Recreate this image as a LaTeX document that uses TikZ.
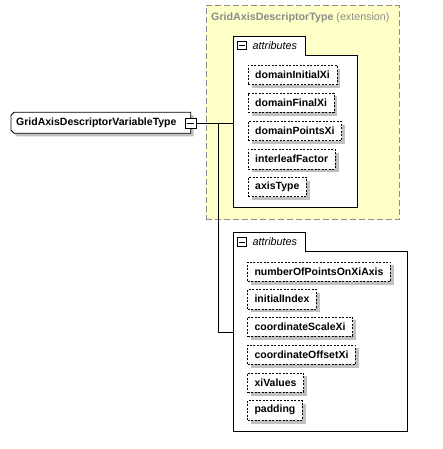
\documentclass[tikz,border=0pt]{standalone}
\usepackage{fontspec}
\setmainfont{Liberation Sans}
\usetikzlibrary{shadows,calc}
\definecolor{ylw}{HTML}{FFFFC8}
\definecolor{ybord}{HTML}{8C8C8C}
\definecolor{shd}{HTML}{C0C0C0}
\begin{document}
\begin{tikzpicture}[x=1pt,y=-1pt,
  attr/.style={draw,dash pattern=on 2pt off 1.5pt,fill=white,anchor=north west,
    minimum height=19.5pt,inner xsep=7pt,inner ysep=0pt,font=\bfseries\fontsize{10.5}{12}\selectfont,
    drop shadow={shadow xshift=3.5pt,shadow yshift=-3.5pt,fill=shd,opacity=1}},
  tabtxt/.style={font=\itshape\fontsize{10.8}{12}\selectfont,anchor=west,inner sep=0pt},
  conn/.style={line width=0.9pt}]
\useasboundingbox (0,0) rectangle (443,449);
% extension box
\node[draw=ybord,fill=ylw,dash pattern=on 6pt off 3pt,line width=0.8pt,anchor=north west,minimum width=193pt,minimum height=214.3pt,inner sep=0pt] (ext) at (205.7,5) {};
\node[anchor=west,inner sep=0pt,text=ybord,font=\fontsize{10.7}{12}\selectfont] (exttitle) at (211,17.7) {\textbf{GridAxisDescriptorType} (extension)};
% group 1
\draw[thick,fill=white] (233.3,207.3) -- (233.3,36) -- (305.3,36) -- (305.3,55.3) -- (357.7,55.3) -- (357.7,207.3) -- cycle;
\node[inner sep=0pt,minimum width=124.4pt,minimum height=171.3pt,anchor=north west] (g1) at (233.3,36) {};
\node[draw,line width=0.6pt,minimum size=8.5pt,inner sep=0pt] (m1) at (242,45.5) {};
\draw[line width=0.6pt] ($(m1.west)+(1.8pt,0)$) -- ($(m1.east)+(-1.8pt,0)$);
\node[tabtxt] (t1) at (252.5,45.7) {attributes};
\node[attr] (a1) at (248,65) {domainInitialXi};
\node[attr] (a2) at (248,92.8) {domainFinalXi};
\node[attr] (a3) at (248,121) {domainPointsXi};
\node[attr] (a4) at (248,149) {interleafFactor};
\node[attr] (a5) at (248,176.8) {axisType};
% group 2
\draw[thick,fill=white] (233.3,431) -- (233.3,232.3) -- (305.3,232.3) -- (305.3,251.7) -- (407.7,251.7) -- (407.7,431) -- cycle;
\node[inner sep=0pt,minimum width=174.4pt,minimum height=198.7pt,anchor=north west] (g2) at (233.3,232.3) {};
\node[draw,line width=0.6pt,minimum size=8.5pt,inner sep=0pt] (m2) at (242,241.8) {};
\draw[line width=0.6pt] ($(m2.west)+(1.8pt,0)$) -- ($(m2.east)+(-1.8pt,0)$);
\node[tabtxt] (t2) at (252.5,242) {attributes};
\node[attr] (b1) at (247.3,261.7) {numberOfPointsOnXiAxis};
\node[attr] (b2) at (247.3,289) {initialIndex};
\node[attr] (b3) at (247.3,316.7) {coordinateScaleXi};
\node[attr] (b4) at (247.3,344.7) {coordinateOffsetXi};
\node[attr] (b5) at (247.3,372.7) {xiValues};
\node[attr] (b6) at (247.3,400.3) {padding};
% main node
\fill[shd] (14,115.5) -- (193.7,115.5) -- (193.7,136.5) -- (17,136.5) -- (14,133.5) -- cycle;
\draw[line width=0.8pt,fill=white] (14,112.3) -- (190.7,112.3) -- (190.7,133.3) -- (14,133.3) -- (11,130.3) -- (11,115.3) -- cycle;
\node[inner sep=0pt,anchor=west,font=\bfseries\fontsize{10.5}{12}\selectfont] (main) at (16,122.8) {GridAxisDescriptorVariableType};
\node[draw,fill=white,line width=0.6pt,minimum width=10.3pt,minimum height=10.3pt,inner sep=0pt] (mm) at (190.8,123.1) {};
\draw[line width=0.6pt] ($(mm.west)+(2pt,0)$) -- ($(mm.east)+(-2pt,0)$);
% connectors
\coordinate (j) at (218.3,122.8);
\coordinate (k) at (218.3,332.3);
\draw[conn] (mm.east) -- (g1.west |- mm.east);
\draw[conn] (j) -- (k) -- (g2.west |- k);
\end{tikzpicture}
\end{document}
